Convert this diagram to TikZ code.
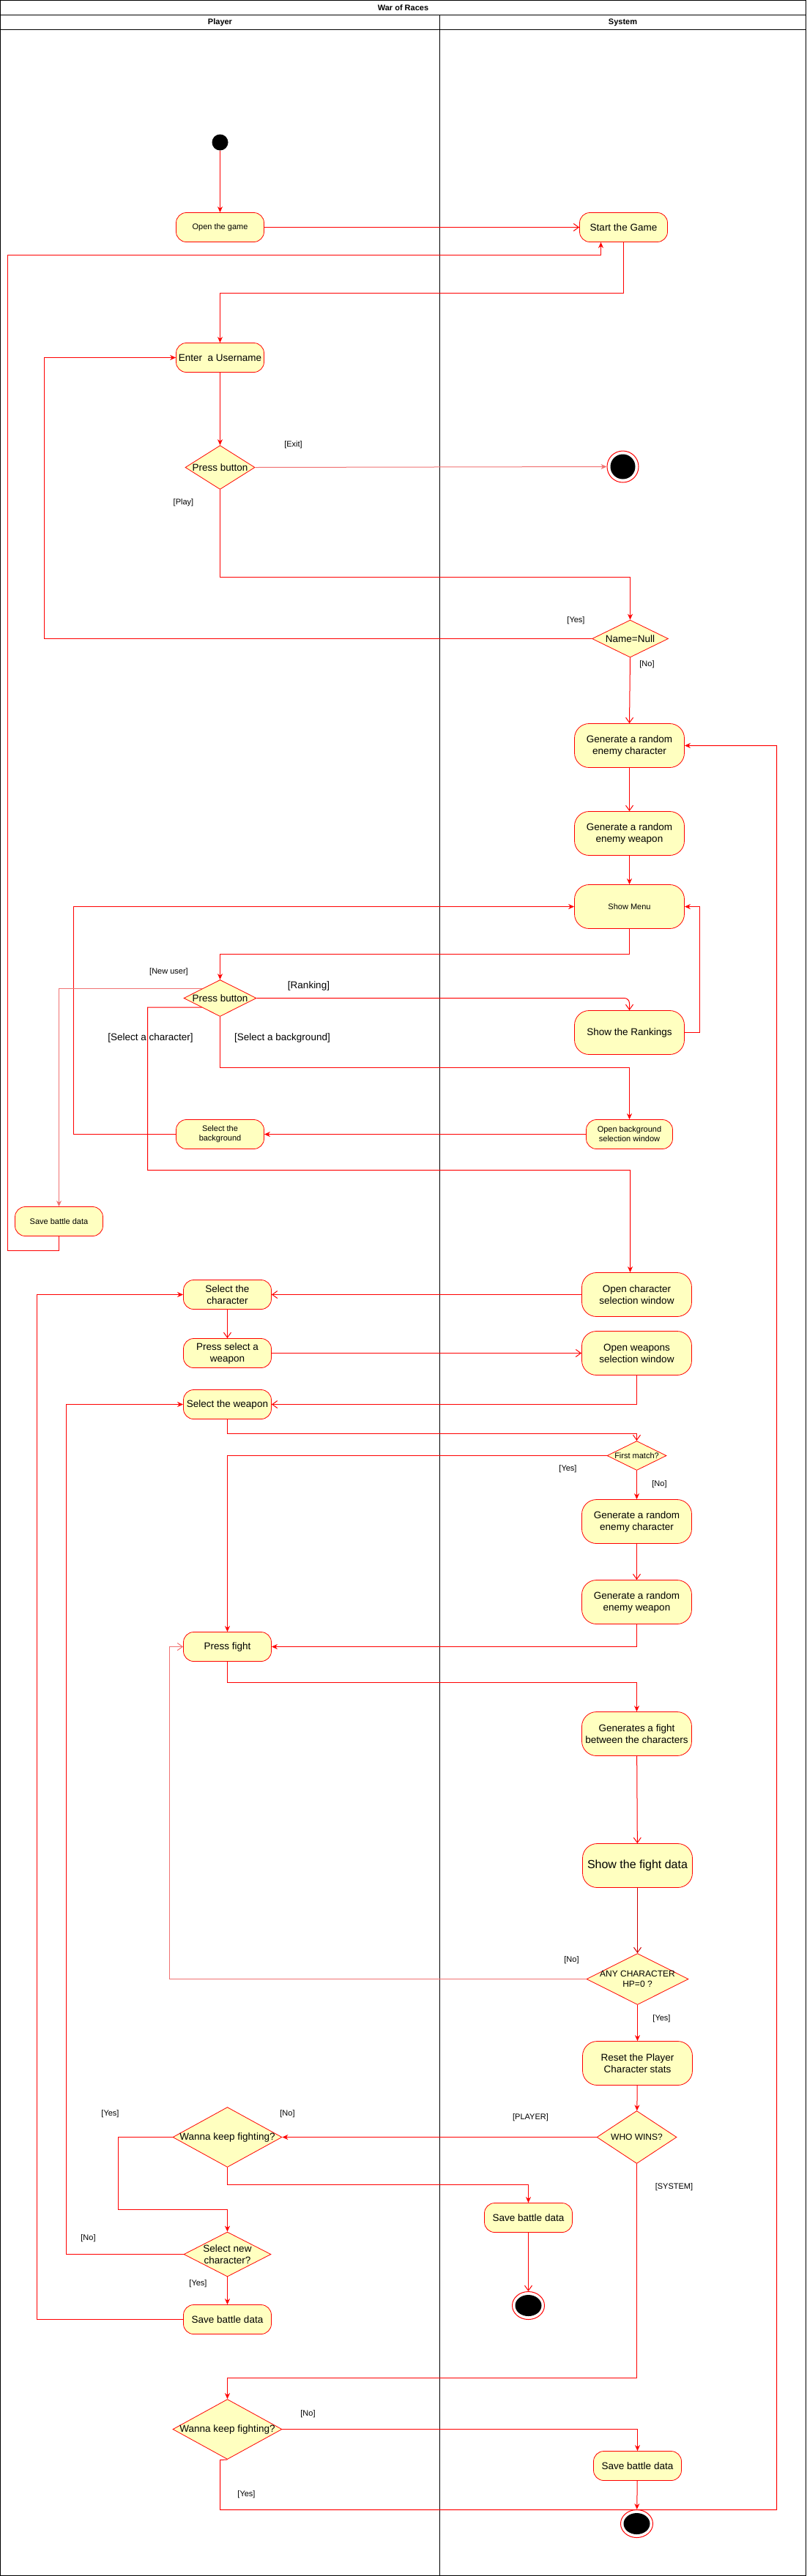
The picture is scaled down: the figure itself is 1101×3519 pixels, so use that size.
\documentclass[tikz,border=0pt]{standalone}
\usepackage{fontspec}
\setmainfont{Liberation Sans}
\usetikzlibrary{arrows.meta,shapes.geometric}
\definecolor{yfill}{HTML}{FFFFC0}
\definecolor{lred}{HTML}{F07272}
\definecolor{dred}{HTML}{D00000}
\begin{document}
\begin{tikzpicture}[x=1bp,y=-1bp,
  tA/.style={font=\fontsize{11bp}{13bp}\selectfont},
  tB/.style={font=\fontsize{12bp}{14bp}\selectfont},
  tC/.style={font=\fontsize{13.5bp}{16bp}\selectfont},
  tD/.style={font=\fontsize{16bp}{19bp}\selectfont},
  act/.style={draw=red, fill=yfill, rounded corners=14bp, minimum width=120bp,
    minimum height=40bp, inner sep=1bp, align=center, line width=0.8bp},
  actL/.style={act, minimum width=150bp, minimum height=60bp, rounded corners=20bp},
  dec/.style={diamond, draw=red, fill=yfill, inner sep=0pt, line width=0.8bp},
  lab/.style={tA, inner sep=0pt},
  fa/.style={draw=red, line width=1bp, -{Stealth[length=8bp,width=7bp]}},
  oa/.style={draw=red, line width=1bp, -{Straight Barb[length=7bp,width=10bp]}},
  lane/.style={draw=black, line width=1bp}
]
\useasboundingbox (0,0) rectangle (1101,3519);
\begin{scope}[shift={(0.5,0.5)}]
% swimlane frame
\draw[lane] (0,0) rectangle (1100,3518);
\draw[lane] (0,20) -- (1100,20);
\draw[lane] (0,40) -- (1100,40);
\draw[lane] (600,20) -- (600,3518);
\node[tA, font=\fontsize{11bp}{13bp}\bfseries\selectfont] (title) at (550,10) {War of Races};
\node[tA, font=\fontsize{11bp}{13bp}\bfseries\selectfont] (lplayer) at (300,30) {Player};
\node[tA, font=\fontsize{11bp}{13bp}\bfseries\selectfont] (lsystem) at (850,30) {System};

% ---------- nodes ----------
\node[circle, fill=black, minimum size=22bp, inner sep=0pt] (init) at (300,194) {};
\node[act, tA] (open) at (300,310) {Open the game};
\node[act, tC] (start) at (851,310) {Start the Game};
\node[act, tC] (user) at (300,488) {Enter\ \ a Username};
\node[dec, minimum width=95bp, minimum height=60bp,
  label={[tC]center:Press button}] (pb1) at (300,638) {};
\node[circle, draw=red, fill=white, line width=1bp, minimum size=43bp, inner sep=0pt] (end1) at (850,637) {};
\node[circle, fill=black, minimum size=34bp, inner sep=0pt] (end1i) at (end1) {};
\node[dec, minimum width=104bp, minimum height=51bp,
  label={[tC]center:Name=Null}] (nn) at (860,872) {};
\node[actL, tC] (gc1) at (859,1018) {Generate a random\\enemy character};
\node[actL, tC] (gw1) at (859,1138) {Generate a random\\enemy weapon};
\node[actL, tA] (menu) at (859,1238) {Show Menu};
\node[dec, minimum width=99bp, minimum height=50bp,
  label={[tC]center:Press button}] (pb2) at (300,1363) {};
\node[actL, tC] (rank) at (859,1410) {Show the Rankings};
\node[act, tA, minimum width=118bp] (obg) at (859,1549) {Open background\\selection window};
\node[act, tA] (sbg) at (300,1549) {Select the\\background};
\node[act, tA] (sbd1) at (80,1668) {Save battle data};
\node[actL, tC] (ocw) at (869,1768) {Open character\\selection window};
\node[act, tC] (sch) at (310,1768) {Select the\\character};
\node[act, tC] (psw) at (310,1848) {Press select a\\weapon};
\node[actL, tC] (oww) at (869,1848) {Open weapons\\selection window};
\node[act, tC] (swp) at (310,1918) {Select the weapon};
\node[dec, minimum width=81bp, minimum height=40bp,
  label={[tA]center:First match?}] (fm) at (869,1988) {};
\node[actL, tC] (gc2) at (869,2078) {Generate a random\\enemy character};
\node[actL, tC] (gw2) at (869,2188) {Generate a random\\enemy weapon};
\node[act, tC] (pf) at (310,2249) {Press fight};
\node[actL, tC] (gf) at (869,2368) {Generates a fight\\between the characters};
\node[actL, tD] (sfd) at (870,2548) {Show the fight data};
\node[dec, minimum width=139bp, minimum height=70bp,
  label={[tB, align=center]center:ANY CHARACTER\\HP=0 ?}] (anyc) at (870,2703) {};
\node[actL, tC] (reset) at (870,2818) {Reset the Player\\Character stats};
\node[dec, minimum width=109bp, minimum height=72bp,
  label={[tB]center:WHO WINS?}] (who) at (869,2919) {};
\node[dec, minimum width=149bp, minimum height=82bp,
  label={[tC]center:Wanna keep fighting?}] (wk1) at (310,2919) {};
\node[act, tC] (sbd2) at (721,3029) {Save battle data};
\node[ellipse, draw=red, fill=white, line width=1bp, minimum width=44bp, minimum height=38bp, inner sep=0pt] (end2) at (721,3149) {};
\node[ellipse, fill=black, minimum width=36bp, minimum height=29bp, inner sep=0pt] (end2i) at (end2) {};
\node[dec, minimum width=119bp, minimum height=61bp,
  label={[tC, align=center]center:Select new\\character?}] (snc) at (310,3079) {};
\node[act, tC] (sbd3) at (310,3168) {Save battle data};
\node[dec, minimum width=149bp, minimum height=82bp,
  label={[tC]center:Wanna keep fighting?}] (wk2) at (310,3318) {};
\node[act, tC] (sbd4) at (870,3368) {Save battle data};
\node[ellipse, draw=red, fill=white, line width=1bp, minimum width=44bp, minimum height=38bp, inner sep=0pt] (end3) at (869,3447) {};
\node[ellipse, fill=black, minimum width=36bp, minimum height=29bp, inner sep=0pt] (end3i) at (end3) {};

% ---------- guard labels ----------
\node[lab] (lexit) at (400,607) {[Exit]};
\node[lab] (lplay) at (250,686) {[Play]};
\node[lab] (lyes1) at (786,847) {[Yes]};
\node[lab] (lno1) at (883,907) {[No]};
\node[lab] (lnew) at (230,1327) {[New user]};
\node[lab, tC] (lrank) at (421,1346) {[Ranking]};
\node[lab, tC] (lsch) at (205,1417) {[Select a character]};
\node[lab, tC] (lsbg) at (385,1417) {[Select a background]};
\node[lab] (lyes2) at (775,2006) {[Yes]};
\node[lab] (lno2) at (900,2027) {[No]};
\node[lab] (lno3) at (780,2677) {[No]};
\node[lab] (lyes3) at (903,2757) {[Yes]};
\node[lab] (lplayer2) at (724,2892) {[PLAYER]};
\node[lab] (lsystem2) at (920,2987) {[SYSTEM]};
\node[lab] (lyes4) at (150,2887) {[Yes]};
\node[lab] (lno4) at (392,2887) {[No]};
\node[lab] (lno5) at (120,3057) {[No]};
\node[lab] (lyes5) at (270,3119) {[Yes]};
\node[lab] (lno6) at (420,3297) {[No]};
\node[lab] (lyes6) at (336,3407) {[Yes]};

% ---------- connectors ----------
\draw[fa] (init) -- (open);
\draw[oa] (open) -- (start);
\draw[fa] (sbd1.south) -- (80,1708) -- (10,1708) -- (10,348) -| ([xshift=-31bp]start.south);
\draw[fa] (start.south) -- (851,400) -| (user.north);
\draw[fa] (user) -- (pb1);
\draw[fa, draw=lred] (pb1.east) -- (end1.west);
\draw[fa] (pb1.south) -- (300,788) -| (nn.north);
\draw[fa] (nn.west) -- (60,872) |- (user.west);
\draw[oa] (nn.south) -- (gc1.north);
\draw[oa] (gc1) -- (gw1);
\draw[fa] (gw1) -- (menu);
\draw[fa] (sbg.west) -- (100,1549) |- (menu.west);
\draw[fa] (rank.east) -- (955,1410) |- (menu.east);
\draw[fa] (menu.south) -- (859,1303) -| (pb2.north);
\draw[oa, rounded corners=7bp] (pb2.east) -| (rank.north);
\draw[fa, draw=lred] (pb2.north west) -| (sbd1.north);
\draw[fa] (pb2.south west) -- (201,1375.5) -- (201,1598) -| ([xshift=-9bp]ocw.north);
\draw[fa] (pb2.south) -- (300,1458) -| (obg.north);
\draw[fa] (obg) -- (sbg);
\draw[oa] (ocw) -- (sch);
\draw[fa, line width=1.3bp] (sbd3.west) -- (50,3168) |- (sch.west);
\draw[oa] (sch) -- (psw);
\draw[oa] (psw) -- (oww);
\draw[oa] (oww.south) |- (swp.east);
\draw[fa, line width=1.3bp] (snc.west) -- (90,3079) |- (swp.west);
\draw[oa] (swp.south) -- (310,1958) -| (fm.north);
\draw[fa] (fm.west) -| (pf.north);
\draw[fa] (fm) -- (gc2);
\draw[oa] (gc2) -- (gw2);
\draw[fa] (gw2.south) |- (pf.east);
\draw[oa, draw=lred] (anyc.west) -- (231,2703) |- (pf.west);
\draw[fa] (pf.south) -- (310,2298) -| (gf.north);
\draw[oa] (gf) -- (sfd);
\draw[oa, draw=dred] (sfd) -- (anyc);
\draw[fa] (anyc) -- (reset);
\draw[fa] (reset) -- (who);
\draw[fa] (who.west) -- (wk1.east);
\draw[fa] (wk1.west) -- (161,2919) -- (161,3018) -| (snc.north);
\draw[fa] (wk1.south) -- (310,2984) -| (sbd2.north);
\draw[oa] (sbd2) -- (end2);
\draw[fa] (snc) -- (sbd3);
\draw[fa] (who.south) -- (869,3248) -| (wk2.north);
\draw[fa] (wk2.east) -| (sbd4.north);
\draw[fa] (sbd4) -- (end3);
\draw[fa] (wk2.south) -- (300,3360) -- (300,3428) -- (1060,3428) |- (gc1.east);
\end{scope}
\end{tikzpicture}
\end{document}
